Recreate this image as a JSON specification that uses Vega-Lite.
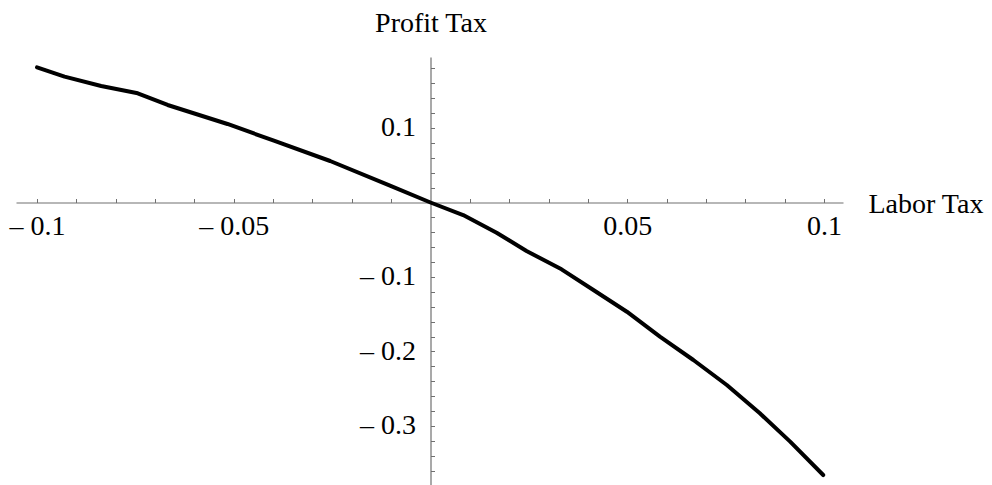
{
  "$schema": "https://vega.github.io/schema/vega-lite/v6.json",
  "width": 827,
  "height": 428,
  "autosize": "none",
  "padding": {"left": 16, "top": 57, "right": 149, "bottom": 0},
  "background": "white",
  "config": {"view": {"stroke": null}, "font": "Liberation Serif"},
  "data": {"values": [
    {"labor": -0.1, "profit": 0.1815},
    {"labor": -0.093, "profit": 0.1689},
    {"labor": -0.0837, "profit": 0.1564},
    {"labor": -0.0744, "profit": 0.1466},
    {"labor": -0.0668, "profit": 0.1309},
    {"labor": -0.0516, "profit": 0.1054},
    {"labor": -0.0398, "profit": 0.083},
    {"labor": -0.0255, "profit": 0.0557},
    {"labor": -0.0103, "profit": 0.0226},
    {"labor": 0.0, "profit": 0.0},
    {"labor": 0.0083, "profit": -0.0168},
    {"labor": 0.0168, "profit": -0.0405},
    {"labor": 0.0244, "profit": -0.0651},
    {"labor": 0.0333, "profit": -0.0897},
    {"labor": 0.0414, "profit": -0.1174},
    {"labor": 0.0499, "profit": -0.1466},
    {"labor": 0.0583, "profit": -0.18},
    {"labor": 0.0668, "profit": -0.2114},
    {"labor": 0.0753, "profit": -0.245},
    {"labor": 0.0837, "profit": -0.283},
    {"labor": 0.0914, "profit": -0.321},
    {"labor": 0.0998, "profit": -0.3658}
  ]},
  "mark": {"type": "line", "color": "black", "strokeWidth": 4, "strokeCap": "round", "strokeJoin": "round", "clip": false},
  "encoding": {
    "x": {
      "field": "labor", "type": "quantitative",
      "scale": {"domain": [-0.10534, 0.10483], "nice": false, "zero": false},
      "axis": {
        "orient": "bottom",
        "offset": -282.5,
        "grid": false,
        "values": [-0.1, -0.09, -0.08, -0.07, -0.06, -0.05, -0.04, -0.03, -0.02, -0.01, 0.01, 0.02, 0.03, 0.04, 0.05, 0.06, 0.07, 0.08, 0.09, 0.1],
        "labelExpr": "abs(datum.value*20 - round(datum.value*20)) < 1e-6 ? (datum.value < 0 ? '\u2013 ' + (-datum.value) : '' + datum.value) : ''",
        "labelFont": "Liberation Serif",
        "labelFontSize": 28,
        "labelColor": "black",
        "labelPadding": 14,
        "labelBaseline": "top",
        "labelFlush": false,
        "labelOverlap": false,
        "domainColor": "#707070",
        "domainWidth": 1.2,
        "tickColor": "#707070",
        "tickSize": -4,
        "tickWidth": 1,
        "title": "Labor Tax",
        "titleFont": "Liberation Serif",
        "titleFontSize": 28,
        "titleFontWeight": "normal",
        "titleColor": "black",
        "titleAlign": "left",
        "titleBaseline": "alphabetic",
        "titleX": 852,
        "titleY": 9.5
      }
    },
    "y": {
      "field": "profit", "type": "quantitative",
      "scale": {"domain": [-0.3792, 0.1953], "nice": false, "zero": false},
      "axis": {
        "orient": "left",
        "offset": -414.5,
        "grid": false,
        "values": [-0.36, -0.34, -0.32, -0.3, -0.28, -0.26, -0.24, -0.22, -0.2, -0.18, -0.16, -0.14, -0.12, -0.1, -0.08, -0.06, -0.04, -0.02, 0.02, 0.04, 0.06, 0.08, 0.1, 0.12, 0.14, 0.16, 0.18],
        "labelExpr": "abs(datum.value*10 - round(datum.value*10)) < 1e-6 ? (datum.value < 0 ? '\u2013 ' + (-datum.value) : '' + datum.value) : ''",
        "labelFont": "Liberation Serif",
        "labelFontSize": 28,
        "labelColor": "black",
        "labelPadding": 19,
        "labelFlush": false,
        "labelOverlap": false,
        "domainColor": "#707070",
        "domainWidth": 1.2,
        "tickColor": "#707070",
        "tickSize": -4,
        "tickWidth": 1,
        "title": "Profit Tax",
        "titleFont": "Liberation Serif",
        "titleFontSize": 28,
        "titleFontWeight": "normal",
        "titleColor": "black",
        "titleAngle": 0,
        "titleAlign": "center",
        "titleBaseline": "alphabetic",
        "titleX": 0,
        "titleY": -25.5
      }
    }
  }
}
